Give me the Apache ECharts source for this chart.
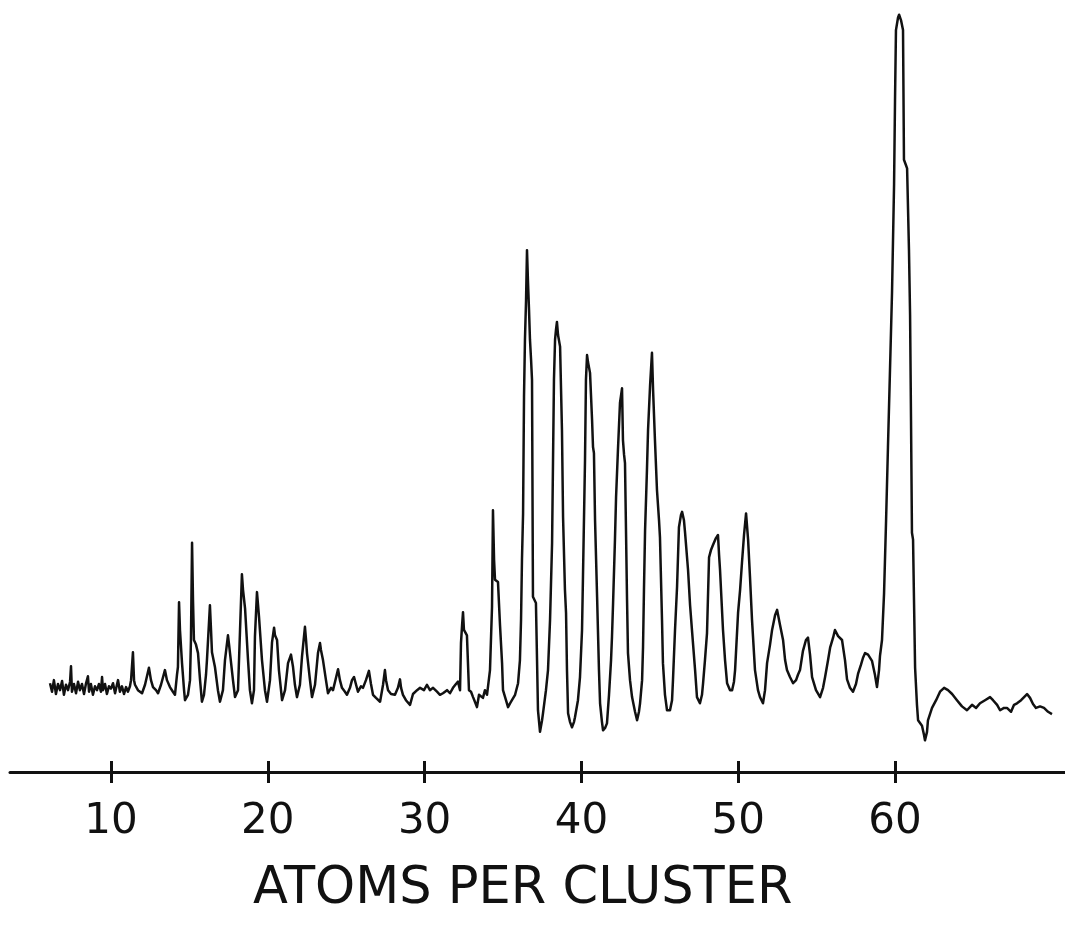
<!DOCTYPE html>
<html>
<head>
<meta charset="utf-8">
<script src="https://cdn.jsdelivr.net/npm/echarts@6/dist/echarts.min.js"></script>
<style>
  html, body { margin: 0; padding: 0; background: #fff; }
  #chart { width: 1065px; height: 936px; }
</style>
</head>
<body>
<div id="chart"></div>
<script>
// x: atoms per cluster, y: ion signal (arbitrary units, 0..100)
const atoms = [
  6.11, 6.24, 6.36, 6.49, 6.62, 6.75, 6.88, 7.00, 7.13, 7.26, 7.39, 7.45, 7.51, 7.64, 7.77, 7.90,
  8.02, 8.15, 8.28, 8.41, 8.53, 8.60, 8.72, 8.85, 8.98, 9.11, 9.23, 9.36, 9.43, 9.49, 9.62, 9.74,
  9.87, 10.00, 10.13, 10.26, 10.38, 10.45, 10.57, 10.70, 10.83, 10.96, 11.08, 11.21, 11.28, 11.40,
  11.47, 11.53, 11.72, 11.98, 12.17, 12.42, 12.55, 12.68, 12.87, 13.00, 13.19, 13.44, 13.57, 13.76,
  13.95, 14.08, 14.21, 14.27, 14.34, 14.40, 14.53, 14.66, 14.72, 14.91, 15.04, 15.10, 15.17, 15.23,
  15.29, 15.42, 15.55, 15.68, 15.80, 15.93, 16.06, 16.12, 16.31, 16.38, 16.44, 16.63, 16.82, 16.95,
  17.14, 17.27, 17.46, 17.53, 17.59, 17.78, 17.91, 18.10, 18.23, 18.35, 18.42, 18.55, 18.74, 18.86,
  18.99, 19.12, 19.18, 19.31, 19.38, 19.44, 19.63, 19.82, 19.95, 20.14, 20.27, 20.40, 20.46, 20.59,
  20.71, 20.91, 21.10, 21.29, 21.48, 21.61, 21.73, 21.86, 22.05, 22.18, 22.37, 22.44, 22.50, 22.69,
  22.82, 23.01, 23.20, 23.33, 23.39, 23.52, 23.71, 23.84, 24.03, 24.16, 24.35, 24.48, 24.60, 24.73,
  24.92, 25.05, 25.24, 25.37, 25.50, 25.63, 25.75, 25.94, 26.07, 26.26, 26.45, 26.58, 26.71, 26.90,
  27.16, 27.35, 27.47, 27.54, 27.67, 27.86, 28.11, 28.30, 28.43, 28.50, 28.62, 28.81, 29.07, 29.26,
  29.52, 29.71, 29.96, 30.15, 30.34, 30.54, 30.79, 30.98, 31.17, 31.43, 31.62, 31.81, 32.00, 32.13,
  32.26, 32.32, 32.39, 32.45, 32.51, 32.70, 32.83, 32.96, 33.09, 33.21, 33.34, 33.47, 33.53, 33.72,
  33.85, 33.98, 34.17, 34.30, 34.36, 34.43, 34.49, 34.68, 34.81, 34.94, 35.00, 35.19, 35.32, 35.45,
  35.57, 35.77, 35.96, 36.08, 36.15, 36.21, 36.28, 36.34, 36.40, 36.47, 36.53, 36.59, 36.66, 36.72,
  36.79, 36.85, 36.91, 37.10, 37.17, 37.23, 37.36, 37.49, 37.55, 37.74, 37.87, 38.00, 38.13, 38.19,
  38.25, 38.32, 38.38, 38.44, 38.51, 38.64, 38.76, 38.83, 38.95, 39.02, 39.08, 39.15, 39.27, 39.40,
  39.53, 39.59, 39.78, 39.91, 40.04, 40.10, 40.23, 40.29, 40.36, 40.42, 40.55, 40.68, 40.74, 40.80,
  40.87, 41.00, 41.12, 41.19, 41.31, 41.38, 41.51, 41.63, 41.76, 41.89, 41.95, 42.02, 42.14, 42.21,
  42.33, 42.46, 42.53, 42.59, 42.65, 42.72, 42.78, 42.91, 42.97, 43.10, 43.23, 43.42, 43.55, 43.67,
  43.74, 43.87, 43.93, 43.99, 44.06, 44.18, 44.25, 44.38, 44.50, 44.57, 44.69, 44.82, 44.95, 45.01,
  45.14, 45.20, 45.33, 45.46, 45.65, 45.78, 45.84, 45.97, 46.10, 46.22, 46.35, 46.42, 46.54, 46.61,
  46.80, 46.93, 47.05, 47.25, 47.37, 47.56, 47.69, 47.76, 47.88, 48.01, 48.14, 48.27, 48.39, 48.58,
  48.71, 48.78, 48.84, 49.03, 49.16, 49.29, 49.48, 49.61, 49.73, 49.80, 49.99, 50.12, 50.24, 50.37,
  50.50, 50.63, 50.75, 50.88, 51.07, 51.26, 51.39, 51.58, 51.71, 51.84, 52.03, 52.16, 52.35, 52.48,
  52.67, 52.86, 52.99, 53.11, 53.30, 53.50, 53.69, 53.81, 53.94, 54.13, 54.32, 54.45, 54.58, 54.71,
  54.96, 55.22, 55.41, 55.54, 55.73, 55.86, 56.05, 56.17, 56.37, 56.62, 56.81, 56.94, 57.13, 57.32,
  57.51, 57.64, 57.83, 57.96, 58.09, 58.28, 58.53, 58.72, 58.85, 58.98, 59.04, 59.17, 59.30, 59.43,
  59.55, 59.68, 59.81, 59.94, 60.00, 60.06, 60.19, 60.26, 60.38, 60.51, 60.57, 60.70, 60.77, 60.89,
  60.96, 61.02, 61.08, 61.15, 61.21, 61.28, 61.40, 61.47, 61.59, 61.72, 61.85, 61.91, 62.04, 62.10,
  62.23, 62.36, 62.62, 62.87, 63.13, 63.38, 63.64, 63.95, 64.27, 64.59, 64.91, 65.17, 65.42, 65.74,
  66.06, 66.25, 66.51, 66.70, 66.95, 67.14, 67.40, 67.59, 67.78, 68.04, 68.23, 68.42, 68.61, 68.80,
  68.99, 69.25, 69.50, 69.76, 70.01
];
const intensity = [
  11.5, 10.4, 11.9, 10.1, 11.4, 10.6, 11.8, 10.0, 11.3, 10.6, 11.7, 13.7, 10.4, 11.4, 10.2, 11.7,
  10.6, 11.4, 10.1, 11.5, 12.4, 10.4, 11.4, 10.0, 11.1, 10.6, 11.4, 10.4, 12.3, 10.6, 11.4, 10.1,
  11.1, 10.8, 11.5, 10.2, 11.3, 11.9, 10.4, 11.1, 10.1, 11.0, 10.4, 11.1, 11.9, 15.5,
  11.9, 11.3, 10.6, 10.2, 11.3, 13.5, 11.9, 11.0, 10.6, 10.2, 11.3, 13.2, 11.9, 11.0,
  10.4, 10.0, 12.6, 13.6, 22.0, 18.4, 14.1, 10.6, 9.3, 10.0, 11.9, 17.1, 29.7, 22.3,
  17.1, 16.5, 15.4, 11.9, 9.1, 10.0, 12.6, 14.5, 21.6, 18.4, 15.5, 13.6, 10.6, 9.1,
  10.6, 14.5, 17.7, 16.5, 15.4, 11.9, 9.7, 10.6, 18.4, 25.6, 23.6, 21.2, 14.5, 10.6,
  8.9, 10.6, 17.5, 23.3, 21.6, 20.1, 14.5, 10.6, 9.1, 11.9, 16.8, 18.7, 17.7, 17.1,
  13.2, 9.3, 10.6, 14.1, 15.2, 13.6, 11.3, 9.7, 11.3, 14.9, 18.8, 17.1, 15.4, 11.9,
  9.7, 11.3, 15.4, 16.7, 15.8, 14.5, 11.9, 10.2, 10.9, 10.6, 12.2, 13.3, 11.9, 10.9,
  10.4, 10.0, 10.9, 11.9, 12.3, 11.3, 10.4, 11.1, 10.9, 11.9, 13.1, 11.4, 10.0, 9.6,
  9.1, 11.3, 13.2, 11.9, 10.6, 10.1, 10.0, 10.9, 12.0, 10.9, 10.0, 9.3, 8.7, 10.1,
  10.6, 10.9, 10.6, 11.3, 10.6, 10.9, 10.4, 10.0, 10.2, 10.6, 10.2, 10.9, 11.4, 11.7,
  10.6, 16.7, 19.0, 20.7, 18.4, 17.7, 10.6, 10.4, 9.7, 9.1, 8.4, 10.0, 10.2, 9.6,
  10.6, 10.0, 13.2, 21.4, 33.9, 27.5, 24.9, 24.6, 19.0, 14.1, 10.6, 9.3, 8.4, 8.9,
  9.3, 10.0, 11.5, 14.5, 19.7, 27.5, 33.5, 48.6, 56.0, 61.1, 67.6, 63.7, 59.8, 56.0,
  53.4, 50.8, 22.7, 21.9, 14.5, 8.0, 5.2, 6.7, 7.6, 10.6, 13.2, 19.7, 29.7, 40.4,
  50.8, 56.0, 57.3, 58.3, 56.6, 55.1, 44.3, 33.0, 23.6, 20.6, 13.2, 7.6, 6.5, 5.8,
  6.5, 7.1, 9.3, 12.3, 18.4, 25.3, 40.4, 50.8, 54.0, 53.1, 51.7, 45.6, 42.1, 41.3,
  32.6, 22.7, 13.2, 8.9, 6.5, 5.4, 5.7, 6.3, 10.0, 14.5, 17.5, 21.9, 30.1, 35.6,
  41.7, 47.8, 48.8, 49.7, 43.0, 41.1, 40.0, 22.3, 15.4, 11.9, 9.7, 7.8, 6.7, 7.8,
  8.9, 11.9, 16.2, 23.6, 31.3, 39.1, 44.3, 50.1, 54.3, 49.5, 43.0, 36.5, 32.6, 30.4,
  19.7, 14.1, 10.0, 8.0, 8.0, 9.3, 11.9, 18.4, 24.0, 31.7, 33.3, 33.7, 32.6, 31.0,
  26.2, 21.6, 18.4, 13.2, 9.7, 8.9, 10.0, 11.5, 14.5, 18.0, 27.8, 28.8, 29.4, 30.3,
  30.7, 28.1, 26.2, 18.4, 14.5, 11.5, 10.6, 10.6, 11.7, 13.2, 20.6, 23.6, 27.1, 30.7,
  33.5, 30.1, 25.3, 19.7, 13.2, 10.6, 9.7, 8.9, 10.6, 14.1, 16.5, 18.4, 20.3, 21.0,
  19.0, 17.1, 14.5, 13.2, 12.3, 11.5, 11.9, 12.6, 13.2, 15.7, 17.1, 17.4, 15.2, 12.3,
  10.6, 9.7, 10.9, 12.3, 14.5, 16.1, 17.4, 18.4, 17.6, 17.1, 14.5, 12.0, 10.9, 10.4,
  11.4, 12.7, 13.9, 14.8, 15.4, 15.2, 14.4, 12.6, 11.0, 13.2, 15.0, 17.1, 23.1, 32.6,
  42.1, 52.1, 62.2, 76.2, 87.0, 96.1, 97.7, 98.1, 97.4, 96.1, 79.3, 78.6, 78.2, 67.6,
  59.2, 45.6, 31.0, 30.1, 22.3, 13.5, 8.7, 6.7, 6.5, 6.0, 4.8, 4.1, 5.2, 6.7,
  7.5, 8.3, 9.3, 10.4, 10.9, 10.6, 10.1, 9.3, 8.5, 8.0, 8.7, 8.3, 8.9, 9.3,
  9.7, 9.3, 8.7, 8.0, 8.3, 8.3, 7.8, 8.7, 8.9, 9.3, 9.7, 10.1, 9.6, 8.8,
  8.3, 8.5, 8.3, 7.8, 7.5
];
const tickValues = [10, 20, 30, 40, 50, 60];
const axisTitle = 'ATOMS PER CLUSTER';

const chart = echarts.init(document.getElementById('chart'), null, { renderer: 'canvas' });

const ink = '#111';
const labelFont = 'DejaVu Sans';

const option = {
    backgroundColor: '#fff',
    animation: false,
    grid: { left: 10, right: 0, top: 0, bottom: 164 },
    xAxis: [
        {
            type: 'value',
            min: 3.56,
            max: 70.84,
            position: 'bottom',
            splitLine: { show: false },
            axisLine: { show: true, lineStyle: { color: ink, width: 3 } },
            axisTick: {
                show: true,
                customValues: tickValues,
                inside: false,
                length: 11,
                lineStyle: { color: ink, width: 3 }
            },
            axisLabel: {
                show: true,
                customValues: tickValues,
                margin: 29,
                color: ink,
                fontFamily: labelFont,
                fontSize: 42
            }
        },
        {
            // second copy of the axis: ticks that cross above the line
            type: 'value',
            min: 3.56,
            max: 70.84,
            position: 'bottom',
            splitLine: { show: false },
            axisLine: { show: false },
            axisTick: {
                show: true,
                customValues: tickValues,
                inside: true,
                length: 11,
                lineStyle: { color: ink, width: 3 }
            },
            axisLabel: { show: false }
        }
    ],
    yAxis: {
        type: 'value',
        min: 0,
        max: 100,
        show: false
    },
    graphic: [
        {
            type: 'text',
            left: 253,
            top: 864,
            style: {
                text: axisTitle,
                fill: ink,
                font: '51px "DejaVu Sans"'
            }
        }
    ],
    series: [
        {
            name: 'signal',
            type: 'line',
            xAxisIndex: 0,
            showSymbol: false,
            symbol: 'none',
            sampling: null,
            lineStyle: { color: ink, width: 2.5, join: 'round' },
            data: atoms.map((a, i) => [a, intensity[i]])
        }
    ]
};

chart.setOption(option);
</script>
</body>
</html>
